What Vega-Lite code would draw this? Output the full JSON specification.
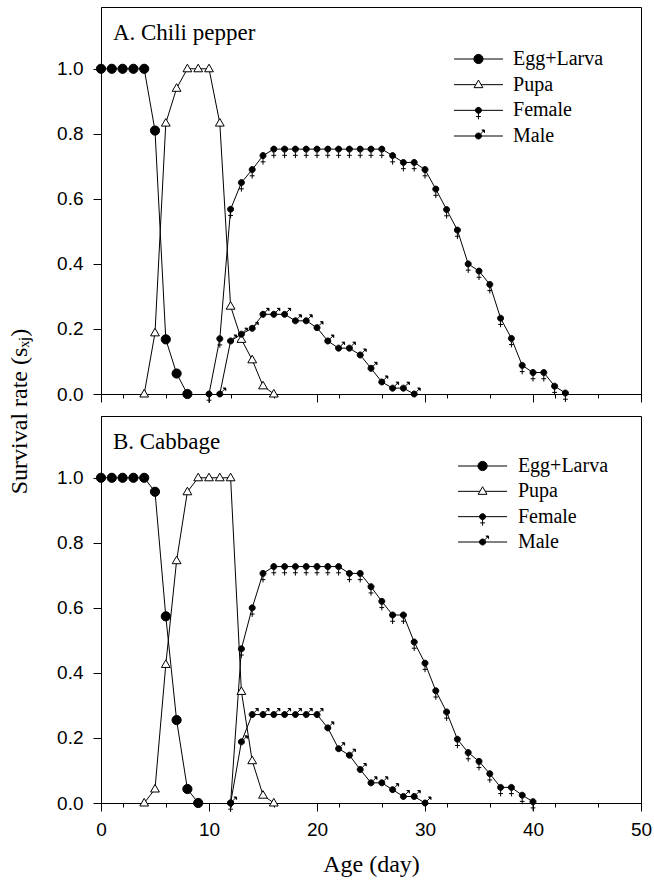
{
  "$schema": "https://vega.github.io/schema/vega-lite/v6.json",
  "padding": {"left": 7, "top": 6, "right": 0, "bottom": 0},
  "bounds": "flush",
  "spacing": 22,
  "config": {
    "view": {"stroke": "black", "strokeWidth": 1},
    "axis": {
      "domainColor": "black",
      "tickColor": "black",
      "labelColor": "black",
      "titleColor": "black",
      "labelFont": "Liberation Sans",
      "labelFontSize": 19,
      "titleFont": "Liberation Serif",
      "titleFontSize": 24,
      "titleFontWeight": "normal",
      "grid": false,
      "labelOverlap": false,
      "labelFlush": false,
      "domainWidth": 1,
      "tickWidth": 1
    },
    "point": {"filled": true, "stroke": "black", "strokeWidth": 1, "size": 400, "opacity": 1},
    "text": {"font": "Liberation Serif", "color": "black", "baseline": "middle", "align": "left"}
  },
  "datasets": {
    "series": [
      {"series": "Egg+Larva"},
      {"series": "Pupa"},
      {"series": "Female"},
      {"series": "Male"}
    ],
    "chili": [
      {"series": "Egg+Larva", "day": 0, "value": 1},
      {"series": "Egg+Larva", "day": 1, "value": 1},
      {"series": "Egg+Larva", "day": 2, "value": 1},
      {"series": "Egg+Larva", "day": 3, "value": 1},
      {"series": "Egg+Larva", "day": 4, "value": 1},
      {"series": "Egg+Larva", "day": 5, "value": 0.81},
      {"series": "Egg+Larva", "day": 6, "value": 0.168},
      {"series": "Egg+Larva", "day": 7, "value": 0.063},
      {"series": "Egg+Larva", "day": 8, "value": 0},
      {"series": "Pupa", "day": 4, "value": 0},
      {"series": "Pupa", "day": 5, "value": 0.188},
      {"series": "Pupa", "day": 6, "value": 0.833},
      {"series": "Pupa", "day": 7, "value": 0.94},
      {"series": "Pupa", "day": 8, "value": 1},
      {"series": "Pupa", "day": 9, "value": 1},
      {"series": "Pupa", "day": 10, "value": 1},
      {"series": "Pupa", "day": 11, "value": 0.833},
      {"series": "Pupa", "day": 12, "value": 0.27},
      {"series": "Pupa", "day": 13, "value": 0.168},
      {"series": "Pupa", "day": 14, "value": 0.105},
      {"series": "Pupa", "day": 15, "value": 0.025},
      {"series": "Pupa", "day": 16, "value": 0},
      {"series": "Female", "day": 10, "value": 0},
      {"series": "Female", "day": 11, "value": 0.17},
      {"series": "Female", "day": 12, "value": 0.568},
      {"series": "Female", "day": 13, "value": 0.65},
      {"series": "Female", "day": 14, "value": 0.69},
      {"series": "Female", "day": 15, "value": 0.733},
      {"series": "Female", "day": 16, "value": 0.753},
      {"series": "Female", "day": 17, "value": 0.753},
      {"series": "Female", "day": 18, "value": 0.753},
      {"series": "Female", "day": 19, "value": 0.753},
      {"series": "Female", "day": 20, "value": 0.753},
      {"series": "Female", "day": 21, "value": 0.753},
      {"series": "Female", "day": 22, "value": 0.753},
      {"series": "Female", "day": 23, "value": 0.753},
      {"series": "Female", "day": 24, "value": 0.753},
      {"series": "Female", "day": 25, "value": 0.753},
      {"series": "Female", "day": 26, "value": 0.753},
      {"series": "Female", "day": 27, "value": 0.733},
      {"series": "Female", "day": 28, "value": 0.712},
      {"series": "Female", "day": 29, "value": 0.712},
      {"series": "Female", "day": 30, "value": 0.69},
      {"series": "Female", "day": 31, "value": 0.63},
      {"series": "Female", "day": 32, "value": 0.567},
      {"series": "Female", "day": 33, "value": 0.504},
      {"series": "Female", "day": 34, "value": 0.4},
      {"series": "Female", "day": 35, "value": 0.378},
      {"series": "Female", "day": 36, "value": 0.337},
      {"series": "Female", "day": 37, "value": 0.233},
      {"series": "Female", "day": 38, "value": 0.171},
      {"series": "Female", "day": 39, "value": 0.088},
      {"series": "Female", "day": 40, "value": 0.066},
      {"series": "Female", "day": 41, "value": 0.066},
      {"series": "Female", "day": 42, "value": 0.024},
      {"series": "Female", "day": 43, "value": 0.003},
      {"series": "Male", "day": 11, "value": 0},
      {"series": "Male", "day": 12, "value": 0.163},
      {"series": "Male", "day": 13, "value": 0.184},
      {"series": "Male", "day": 14, "value": 0.202},
      {"series": "Male", "day": 15, "value": 0.245},
      {"series": "Male", "day": 16, "value": 0.245},
      {"series": "Male", "day": 17, "value": 0.245},
      {"series": "Male", "day": 18, "value": 0.225},
      {"series": "Male", "day": 19, "value": 0.225},
      {"series": "Male", "day": 20, "value": 0.204},
      {"series": "Male", "day": 21, "value": 0.163},
      {"series": "Male", "day": 22, "value": 0.141},
      {"series": "Male", "day": 23, "value": 0.141},
      {"series": "Male", "day": 24, "value": 0.12},
      {"series": "Male", "day": 25, "value": 0.079},
      {"series": "Male", "day": 26, "value": 0.037},
      {"series": "Male", "day": 27, "value": 0.018},
      {"series": "Male", "day": 28, "value": 0.018},
      {"series": "Male", "day": 29, "value": 0}
    ],
    "cabbage": [
      {"series": "Egg+Larva", "day": 0, "value": 1},
      {"series": "Egg+Larva", "day": 1, "value": 1},
      {"series": "Egg+Larva", "day": 2, "value": 1},
      {"series": "Egg+Larva", "day": 3, "value": 1},
      {"series": "Egg+Larva", "day": 4, "value": 1},
      {"series": "Egg+Larva", "day": 5, "value": 0.957},
      {"series": "Egg+Larva", "day": 6, "value": 0.574},
      {"series": "Egg+Larva", "day": 7, "value": 0.255},
      {"series": "Egg+Larva", "day": 8, "value": 0.043},
      {"series": "Egg+Larva", "day": 9, "value": 0},
      {"series": "Pupa", "day": 4, "value": 0},
      {"series": "Pupa", "day": 5, "value": 0.043},
      {"series": "Pupa", "day": 6, "value": 0.426},
      {"series": "Pupa", "day": 7, "value": 0.745},
      {"series": "Pupa", "day": 8, "value": 0.957},
      {"series": "Pupa", "day": 9, "value": 1},
      {"series": "Pupa", "day": 10, "value": 1},
      {"series": "Pupa", "day": 11, "value": 1},
      {"series": "Pupa", "day": 12, "value": 1},
      {"series": "Pupa", "day": 13, "value": 0.343},
      {"series": "Pupa", "day": 14, "value": 0.13},
      {"series": "Pupa", "day": 15, "value": 0.024},
      {"series": "Pupa", "day": 16, "value": 0},
      {"series": "Female", "day": 12, "value": 0},
      {"series": "Female", "day": 13, "value": 0.474},
      {"series": "Female", "day": 14, "value": 0.6},
      {"series": "Female", "day": 15, "value": 0.706},
      {"series": "Female", "day": 16, "value": 0.727},
      {"series": "Female", "day": 17, "value": 0.727},
      {"series": "Female", "day": 18, "value": 0.727},
      {"series": "Female", "day": 19, "value": 0.727},
      {"series": "Female", "day": 20, "value": 0.727},
      {"series": "Female", "day": 21, "value": 0.727},
      {"series": "Female", "day": 22, "value": 0.727},
      {"series": "Female", "day": 23, "value": 0.706},
      {"series": "Female", "day": 24, "value": 0.706},
      {"series": "Female", "day": 25, "value": 0.665},
      {"series": "Female", "day": 26, "value": 0.62},
      {"series": "Female", "day": 27, "value": 0.578},
      {"series": "Female", "day": 28, "value": 0.578},
      {"series": "Female", "day": 29, "value": 0.495},
      {"series": "Female", "day": 30, "value": 0.43},
      {"series": "Female", "day": 31, "value": 0.345},
      {"series": "Female", "day": 32, "value": 0.28},
      {"series": "Female", "day": 33, "value": 0.196},
      {"series": "Female", "day": 34, "value": 0.155},
      {"series": "Female", "day": 35, "value": 0.128},
      {"series": "Female", "day": 36, "value": 0.09},
      {"series": "Female", "day": 37, "value": 0.048},
      {"series": "Female", "day": 38, "value": 0.048},
      {"series": "Female", "day": 39, "value": 0.024},
      {"series": "Female", "day": 40, "value": 0.004},
      {"series": "Male", "day": 12, "value": 0},
      {"series": "Male", "day": 13, "value": 0.188},
      {"series": "Male", "day": 14, "value": 0.272},
      {"series": "Male", "day": 15, "value": 0.272},
      {"series": "Male", "day": 16, "value": 0.272},
      {"series": "Male", "day": 17, "value": 0.272},
      {"series": "Male", "day": 18, "value": 0.272},
      {"series": "Male", "day": 19, "value": 0.272},
      {"series": "Male", "day": 20, "value": 0.272},
      {"series": "Male", "day": 21, "value": 0.231},
      {"series": "Male", "day": 22, "value": 0.167},
      {"series": "Male", "day": 23, "value": 0.147},
      {"series": "Male", "day": 24, "value": 0.103},
      {"series": "Male", "day": 25, "value": 0.062},
      {"series": "Male", "day": 26, "value": 0.062},
      {"series": "Male", "day": 27, "value": 0.041},
      {"series": "Male", "day": 28, "value": 0.02},
      {"series": "Male", "day": 29, "value": 0.02},
      {"series": "Male", "day": 30, "value": 0}
    ]
  },
  "vconcat": [
    {
      "width": 540,
      "height": 387,
      "resolve": {"scale": {"x": "independent", "y": "independent"}, "axis": {"x": "independent", "y": "independent"}},
      "layer": [
        {
          "data": {"name": "chili"},
          "layer": [
            {
              "mark": {"type": "line", "color": "black", "strokeWidth": 1},
              "encoding": {
                "x": {
                  "field": "day",
                  "type": "quantitative",
                  "scale": {"domain": [0, 50], "nice": false},
                  "axis": {
                    "orient": "bottom",
                    "values": [0, 10, 20, 30, 40, 50],
                    "labels": false,
                    "title": null,
                    "tickSize": 8
                  }
                },
                "y": {
                  "field": "value",
                  "type": "quantitative",
                  "scale": {"domain": [0, 1.19], "nice": false},
                  "axis": {
                    "orient": "left",
                    "values": [0, 0.05, 0.1, 0.15, 0.2, 0.25, 0.3, 0.35, 0.4, 0.45, 0.5, 0.55, 0.6, 0.65, 0.7, 0.75, 0.8, 0.85, 0.9, 0.95, 1, 1.05, 1.1, 1.15],
                    "labelExpr": "(abs(datum.value * 5 - round(datum.value * 5)) < 0.001 && datum.value < 1.01) ? format(datum.value, '.1f') : ''",
                    "tickSize": {"condition": {"test": "abs(datum.value * 5 - round(datum.value * 5)) < 0.001", "value": 8}, "value": 4},
                    "labelPadding": 10,
                    "title": "Survival rate (sₓⱼ)",
                    "titlePadding": 25,
                    "titleY": 404
                  }
                },
                "detail": {"field": "series"}
              }
            },
            {
              "mark": {"type": "point"},
              "encoding": {
                "x": {"field": "day", "type": "quantitative"},
                "y": {"field": "value", "type": "quantitative"},
                "fill": {
                  "field": "series",
                  "scale": {"domain": ["Egg+Larva", "Pupa", "Female", "Male"], "range": ["black", "white", "black", "black"]},
                  "legend": null
                },
                "shape": {
                  "field": "series",
                  "scale": {
                    "domain": ["Egg+Larva", "Pupa", "Female", "Male"],
                    "range": [
                      "M-0.46,0A0.46 0.46 0 1 1 0.46,0A0.46 0.46 0 1 1 -0.46,0Z",
                      "M0,-0.46L0.44,0.3L-0.44,0.3Z",
                      "M-0.3,0A0.3 0.3 0 1 1 0.3,0A0.3 0.3 0 1 1 -0.3,0ZM0,0.3V0.9M-0.24,0.62H0.24",
                      "M-0.3,0A0.3 0.3 0 1 1 0.3,0A0.3 0.3 0 1 1 -0.3,0ZM0.21,-0.21L0.58,-0.58M0.32,-0.6H0.6V-0.32"
                    ]
                  },
                  "legend": null
                }
              }
            },
            {
              "data": {"values": [{"panel": "A.  Chili pepper"}]},
              "mark": {"type": "text", "fontSize": 23},
              "encoding": {
                "x": {"datum": 1.1, "type": "quantitative"},
                "y": {"datum": 1.11, "type": "quantitative"},
                "text": {"field": "panel"}
              }
            }
          ]
        },
        {
          "data": {"name": "series"},
          "encoding": {
            "y": {
              "field": "series",
              "type": "nominal",
              "sort": null,
              "scale": {"type": "point", "domain": ["Egg+Larva", "Pupa", "Female", "Male"], "range": [52, 129], "padding": 0},
              "axis": null
            }
          },
          "layer": [
            {
              "mark": {"type": "rule", "color": "black", "strokeWidth": 1},
              "encoding": {
                "x": {
                  "datum": 32.69,
                  "type": "quantitative",
                  "scale": {"domain": [0, 50], "nice": false},
                  "axis": {
                    "orient": "bottom",
                    "values": [2, 4, 6, 8, 12, 14, 16, 18, 22, 24, 26, 28, 32, 34, 36, 38, 42, 44, 46, 48],
                    "labels": false,
                    "domain": false,
                    "title": null,
                    "tickSize": 4
                  }
                },
                "x2": {"datum": 37.22}
              }
            },
            {
              "mark": {"type": "point"},
              "encoding": {
                "x": {"datum": 34.95, "type": "quantitative"},
                "fill": {"field": "series", "legend": null},
                "shape": {"field": "series", "legend": null}
              }
            },
            {
              "mark": {"type": "text", "fontSize": 20},
              "encoding": {
                "x": {"datum": 38.15, "type": "quantitative"},
                "text": {"field": "series"}
              }
            }
          ]
        }
      ]
    },
    {
      "width": 540,
      "height": 387,
      "resolve": {"scale": {"x": "independent", "y": "independent"}, "axis": {"x": "independent", "y": "independent"}},
      "layer": [
        {
          "data": {"name": "cabbage"},
          "layer": [
            {
              "mark": {"type": "line", "color": "black", "strokeWidth": 1},
              "encoding": {
                "x": {
                  "field": "day",
                  "type": "quantitative",
                  "scale": {"domain": [0, 50], "nice": false},
                  "axis": {
                    "orient": "bottom",
                    "values": [0, 10, 20, 30, 40, 50],
                    "format": "d",
                    "tickSize": 8,
                    "labelPadding": 9,
                    "title": "Age (day)",
                    "titlePadding": 13
                  }
                },
                "y": {
                  "field": "value",
                  "type": "quantitative",
                  "scale": {"domain": [0, 1.19], "nice": false},
                  "axis": {
                    "orient": "left",
                    "values": [0, 0.05, 0.1, 0.15, 0.2, 0.25, 0.3, 0.35, 0.4, 0.45, 0.5, 0.55, 0.6, 0.65, 0.7, 0.75, 0.8, 0.85, 0.9, 0.95, 1, 1.05, 1.1, 1.15],
                    "labelExpr": "(abs(datum.value * 5 - round(datum.value * 5)) < 0.001 && datum.value < 1.01) ? format(datum.value, '.1f') : ''",
                    "tickSize": {"condition": {"test": "abs(datum.value * 5 - round(datum.value * 5)) < 0.001", "value": 8}, "value": 4},
                    "labelPadding": 10,
                    "title": null
                  }
                },
                "detail": {"field": "series"}
              }
            },
            {
              "mark": {"type": "point"},
              "encoding": {
                "x": {"field": "day", "type": "quantitative"},
                "y": {"field": "value", "type": "quantitative"},
                "fill": {
                  "field": "series",
                  "scale": {"domain": ["Egg+Larva", "Pupa", "Female", "Male"], "range": ["black", "white", "black", "black"]},
                  "legend": null
                },
                "shape": {
                  "field": "series",
                  "scale": {
                    "domain": ["Egg+Larva", "Pupa", "Female", "Male"],
                    "range": [
                      "M-0.46,0A0.46 0.46 0 1 1 0.46,0A0.46 0.46 0 1 1 -0.46,0Z",
                      "M0,-0.46L0.44,0.3L-0.44,0.3Z",
                      "M-0.3,0A0.3 0.3 0 1 1 0.3,0A0.3 0.3 0 1 1 -0.3,0ZM0,0.3V0.9M-0.24,0.62H0.24",
                      "M-0.3,0A0.3 0.3 0 1 1 0.3,0A0.3 0.3 0 1 1 -0.3,0ZM0.21,-0.21L0.58,-0.58M0.32,-0.6H0.6V-0.32"
                    ]
                  },
                  "legend": null
                }
              }
            },
            {
              "data": {"values": [{"panel": "B.  Cabbage"}]},
              "mark": {"type": "text", "fontSize": 23},
              "encoding": {
                "x": {"datum": 1.1, "type": "quantitative"},
                "y": {"datum": 1.11, "type": "quantitative"},
                "text": {"field": "panel"}
              }
            }
          ]
        },
        {
          "data": {"name": "series"},
          "encoding": {
            "y": {
              "field": "series",
              "type": "nominal",
              "sort": null,
              "scale": {"type": "point", "domain": ["Egg+Larva", "Pupa", "Female", "Male"], "range": [50, 126], "padding": 0},
              "axis": null
            }
          },
          "layer": [
            {
              "mark": {"type": "rule", "color": "black", "strokeWidth": 1},
              "encoding": {
                "x": {
                  "datum": 33.06,
                  "type": "quantitative",
                  "scale": {"domain": [0, 50], "nice": false},
                  "axis": {
                    "orient": "bottom",
                    "values": [2, 4, 6, 8, 12, 14, 16, 18, 22, 24, 26, 28, 32, 34, 36, 38, 42, 44, 46, 48],
                    "labels": false,
                    "domain": false,
                    "title": null,
                    "tickSize": 4
                  }
                },
                "x2": {"datum": 37.6}
              }
            },
            {
              "mark": {"type": "point"},
              "encoding": {
                "x": {"datum": 35.33, "type": "quantitative"},
                "fill": {"field": "series", "legend": null},
                "shape": {"field": "series", "legend": null}
              }
            },
            {
              "mark": {"type": "text", "fontSize": 20},
              "encoding": {
                "x": {"datum": 38.6, "type": "quantitative"},
                "text": {"field": "series"}
              }
            }
          ]
        }
      ]
    }
  ]
}
